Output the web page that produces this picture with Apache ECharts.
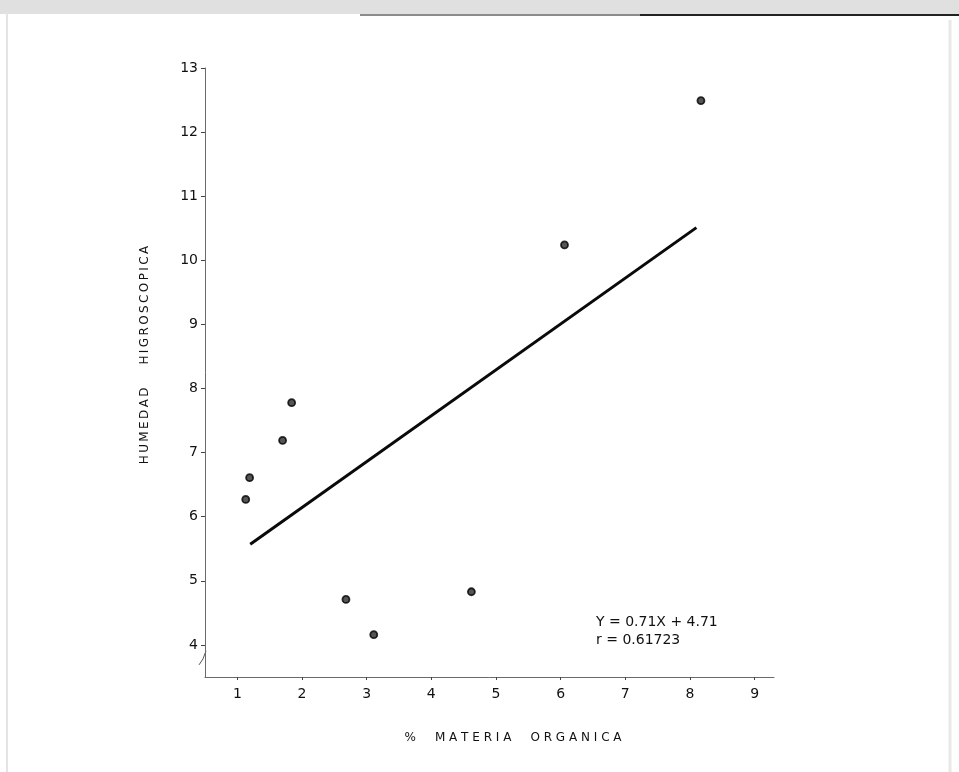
<!DOCTYPE html>
<html><head><meta charset="utf-8">
<script src="https://cdn.jsdelivr.net/npm/echarts@6/dist/echarts.min.js"></script>
<style>html,body{margin:0;padding:0;background:#fff}#c{width:959px;height:772px}</style>
</head><body><div id="c"></div>
<script>
const organicMatter = [1.13, 1.19, 1.70, 1.84, 2.68, 3.11, 4.62, 6.06, 8.17];
const humidity      = [6.27, 6.61, 7.19, 7.78, 4.71, 4.16, 4.83, 10.24, 12.49];
const regressionX = [1.2, 8.1];
const regressionY = [5.57, 10.51];
const xTicks = [1, 2, 3, 4, 5, 6, 7, 8, 9];
const yTicks = [4, 5, 6, 7, 8, 9, 10, 11, 12, 13];
const xTitle = '%     M A T E R I A     O R G A N I C A';
const yTitle = 'H\u2009U\u2009M\u2009E\u2009D\u2009A\u2009D      H\u2009I\u2009G\u2009R\u2009O\u2009S\u2009C\u2009O\u2009P\u2009I\u2009C\u2009A';
const eqLines = ['Y = 0.71X + 4.71', 'r = 0.61723'];

const FONT = 'DejaVu Sans';
const chart = echarts.init(document.getElementById('c'));
const axisCommon = {
  axisLine: {show: true, lineStyle: {color: '#6a6a6a', width: 1}},
  splitLine: {show: false},
  axisLabel: {color: '#111', fontFamily: FONT, fontSize: 14},
  axisTick: {show: true, inside: false, length: 4, lineStyle: {color: '#444'}}
};
chart.setOption({
  animation: false,
  backgroundColor: '#fff',
  grid: {left: 205, right: 185, top: 68, bottom: 95},
  xAxis: Object.assign({}, axisCommon, {
    type: 'value', min: 0.5, max: 9.3,
    axisLabel: Object.assign({}, axisCommon.axisLabel, {customValues: xTicks, margin: 10}),
    axisTick: Object.assign({}, axisCommon.axisTick, {customValues: xTicks, length: 3})
  }),
  yAxis: Object.assign({}, axisCommon, {
    type: 'value', min: 3.5, max: 13,
    axisLabel: Object.assign({}, axisCommon.axisLabel, {customValues: yTicks, margin: 7}),
    axisTick: Object.assign({}, axisCommon.axisTick, {customValues: yTicks})
  }),
  series: [
    {type: 'line', data: regressionX.map((x, i) => [x, regressionY[i]]),
     symbol: 'none', lineStyle: {color: '#0a0a0a', width: 3}},
    {type: 'scatter', data: organicMatter.map((x, i) => [x, humidity[i]]),
     symbol: 'circle', symbolSize: 7,
     itemStyle: {color: '#2a2a2a', borderColor: '#000', borderWidth: 1.8}}
  ]
});

const p = (x, y) => chart.convertToPixel({gridIndex: 0}, [x, y]);
const brk = p(0.5, 3.72);
chart.setOption({
  graphic: [
    {type: 'rect', shape: {x: 0, y: 0, width: 959, height: 14}, style: {fill: '#e0e0e0'}, silent: true},
    {type: 'line', shape: {x1: 360, y1: 15, x2: 959, y2: 15}, style: {stroke: '#666', lineWidth: 1.5}},
    {type: 'line', shape: {x1: 640, y1: 15, x2: 959, y2: 15}, style: {stroke: '#222', lineWidth: 2}},
    {type: 'line', shape: {x1: 950, y1: 20, x2: 950, y2: 772}, style: {stroke: '#e8e8e8', lineWidth: 3}},
    {type: 'line', shape: {x1: 7, y1: 12, x2: 7, y2: 772}, style: {stroke: '#e4e4e4', lineWidth: 2}},
    {type: 'polyline', shape: {points: [[brk[0] + 1, brk[1] - 12], [brk[0] - 2, brk[1] - 4], [brk[0] - 6, brk[1] + 2]]},
     style: {stroke: '#555', lineWidth: 1, fill: null}},
    {type: 'text', x: 145, y: 355, rotation: Math.PI / 2,
     style: {text: yTitle, font: '12px "' + FONT + '"', fill: '#111', align: 'center', verticalAlign: 'middle'}},
    {type: 'text', x: 513, y: 738,
     style: {text: xTitle, font: '12px "' + FONT + '"', fill: '#111', align: 'center', verticalAlign: 'middle'}},
    {type: 'text', x: 596, y: 613,
     style: {text: eqLines.join('\n'), font: '14px "' + FONT + '"', fill: '#111', lineHeight: 18, align: 'left', verticalAlign: 'top'}}
  ]
});
</script></body></html>
